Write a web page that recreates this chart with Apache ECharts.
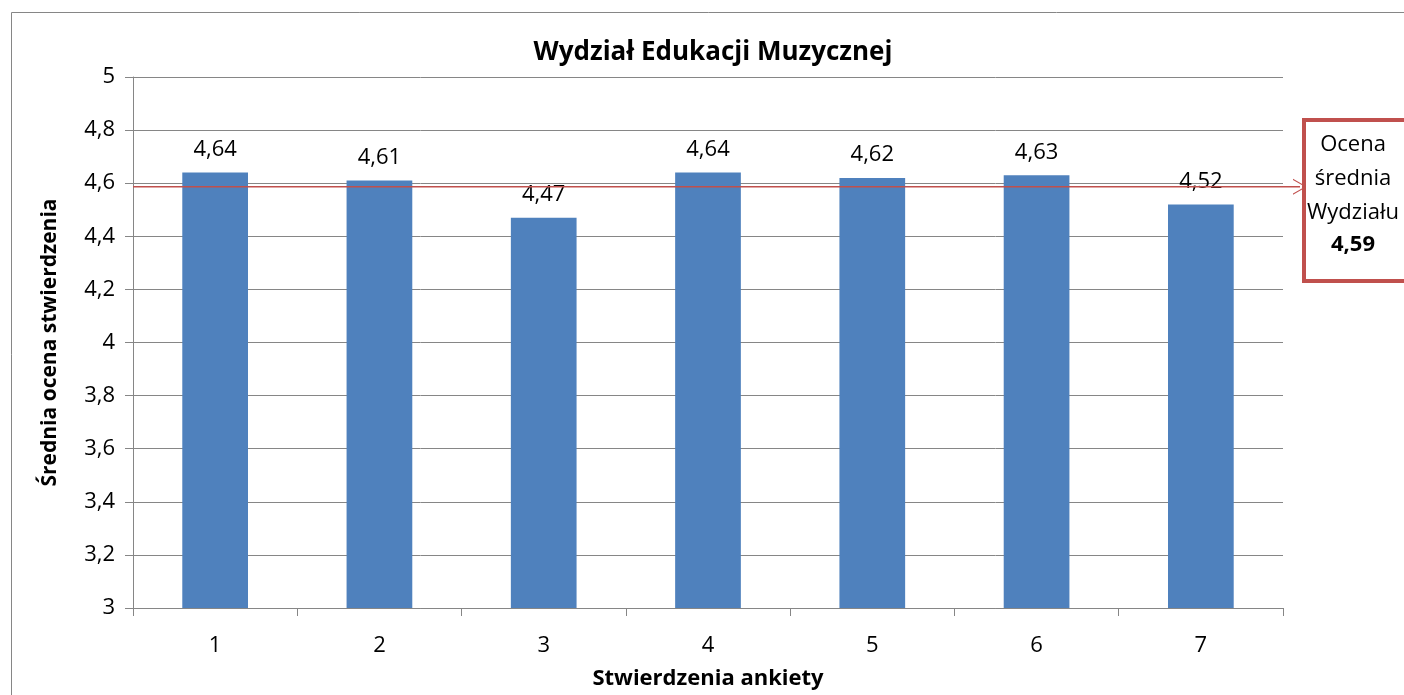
<!DOCTYPE html>
<html><head><meta charset="utf-8">
<script src="https://cdn.jsdelivr.net/npm/echarts@6/dist/echarts.min.js"></script>
<style>html,body{margin:0;padding:0;background:#fff}#c{width:1404px;height:695px}</style>
</head><body><div id="c"></div>
<script>
const categories = ['1','2','3','4','5','6','7'];
const values = [4.64, 4.61, 4.47, 4.64, 4.62, 4.63, 4.52];
const average = 4.59;
const titleText = 'Wydział Edukacji Muzycznej';
const xName = 'Stwierdzenia ankiety';
const yName = 'Średnia ocena stwierdzenia';

const FONT = '"Open Sans", sans-serif';
const fmt = v => String(v).replace('.', ',');
const chart = echarts.init(document.getElementById('c'), null, {renderer: 'canvas'});
const G = {left: 133, right: 121, top: 77, bottom: 83};
chart.setOption({
  animation: false,
  textStyle: {fontFamily: FONT},
  title: {text: titleText, left: 708, textAlign: 'center', top: 35,
    textStyle: {fontFamily: FONT, fontWeight: 'bold', fontSize: 26, color: '#000'}},
  grid: [
    {left: G.left, right: G.right, top: G.top, bottom: G.bottom},
    {left: G.left, right: 104, top: G.top, bottom: G.bottom}
  ],
  xAxis: [
    {type: 'category', data: categories, gridIndex: 0,
      axisLine: {lineStyle: {color: '#868686', width: 1}},
      axisTick: {show: true, length: 8, alignWithLabel: false, lineStyle: {color: '#868686'}},
      axisLabel: {fontSize: 22, color: '#000', margin: 27, fontFamily: FONT},
      name: xName, nameLocation: 'middle', nameGap: 60,
      nameTextStyle: {fontSize: 22, fontWeight: 'bold', color: '#000', fontFamily: FONT}},
    {type: 'value', gridIndex: 1, min: 0, max: 1, show: false}
  ],
  yAxis: [
    {type: 'value', gridIndex: 0, min: 3, max: 5, interval: 0.2,
      axisLine: {show: true, lineStyle: {color: '#868686'}},
      axisTick: {show: true, length: 8, lineStyle: {color: '#868686'}},
      splitLine: {lineStyle: {color: '#868686', width: 1}},
      axisLabel: {fontSize: 22, color: '#000', margin: 18, fontFamily: FONT,
        formatter: v => fmt(+v.toFixed(1))},
      name: yName, nameLocation: 'middle', nameGap: 72, nameRotate: 90,
      nameTextStyle: {fontSize: 21, fontWeight: 'bold', color: '#000', fontFamily: FONT}},
    {type: 'value', gridIndex: 1, min: 3, max: 5, show: false}
  ],
  series: [
    {type: 'bar', xAxisIndex: 0, yAxisIndex: 0, data: values, barWidth: '40%',
      itemStyle: {color: '#4f81bd'},
      label: {show: true, position: 'top', distance: 12, fontSize: 22, color: '#000',
        fontFamily: FONT, formatter: p => fmt(p.value)}},
    {type: 'line', xAxisIndex: 1, yAxisIndex: 1, data: [[0, average], [1, average]],
      symbol: 'none', lineStyle: {color: '#c0504d', width: 1.5}, silent: true,
      markLine: {silent: true, symbol: ['none', 'path://M10,0 L20,20 L18.5,20 L10,3 L1.5,20 L0,20 Z'],
        symbolSize: [16, 14], label: {show: false},
        lineStyle: {color: '#c0504d', width: 0.01, type: 'solid'},
        data: [[{coord: [0.99, average]}, {coord: [1, average]}]]}}
  ],
  graphic: [
    {type: 'rect', left: 9, top: 10, shape: {width: 1500, height: 800},
      style: {fill: 'none', stroke: '#868686', lineWidth: 1}, z: -1, silent: true},
    {type: 'rect', left: 1302, top: 118, shape: {width: 120, height: 161},
      style: {fill: '#fff', stroke: '#c0504d', lineWidth: 4}, z: 10},
    {type: 'text', x: 1353, y: 128, z: 11,
      style: {text: '{n|Ocena}\n{n|średnia}\n{n|Wydziału}\n{b|4,59}', align: 'center', textAlign: 'center',
        rich: {n: {fontSize: 22, fontFamily: FONT, color: '#000', lineHeight: 34, align: 'center'},
               b: {fontSize: 22, fontFamily: FONT, fontWeight: 'bold', color: '#000', lineHeight: 30, align: 'center'}}}}
  ]
});
</script></body></html>
